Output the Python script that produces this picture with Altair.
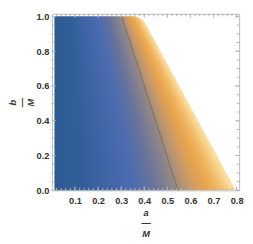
import altair as alt
import numpy as np
import pandas as pd

W, H = 192, 181

# outer boundary of the shaded region: b/M -> largest a/M
bound_b = [0.0, 0.93, 0.965, 0.985, 0.995, 1.0]
bound_a = [0.796, 0.417, 0.403, 0.388, 0.375, 0.362]
# the dark contour line inside the region
contour_b = [0.0, 1.0]
contour_a = [0.547, 0.303]
# left edge of the shaded region
left_a = 0.012

x_tick_vals = [0.1, 0.2, 0.3, 0.4, 0.5, 0.6, 0.7, 0.8]
y_tick_vals = [0.0, 0.2, 0.4, 0.6, 0.8, 1.0]
x_minor_vals = [round(0.02 * i, 2) for i in range(1, 41)]
y_minor_vals = [round(0.05 * i, 2) for i in range(0, 21)]

x_scale = alt.Scale(domain=[0, 0.811], nice=False, zero=False)
y_scale = alt.Scale(domain=[0, 1.015], nice=False, zero=False)

# horizontal strips used to render the colour field
n_strips = 100
edges = np.linspace(0.0, 1.0, n_strips + 1)
rows_l, rows_r = [], []
for k in range(n_strips):
    y0 = float(edges[k])
    y1 = float(min(1.0, edges[k + 1] + 0.012))
    for yy in (y0, y1):
        c = float(np.interp(yy, contour_b, contour_a))
        bnd = float(np.interp(yy, bound_b, bound_a))
        rows_l.append({"s": k, "b": yy, "lo": left_a, "hi": c})
        rows_r.append({"s": k, "b": yy, "lo": c, "hi": bnd})
df_l = pd.DataFrame(rows_l)
df_r = pd.DataFrame(rows_r)

blue_grad = {
    "gradient": "linear", "x1": 0, "y1": 0, "x2": 1, "y2": 0,
    "stops": [
        {"offset": 0.0, "color": "#2d5a8e"},
        {"offset": 0.25, "color": "#325f9a"},
        {"offset": 0.5, "color": "#4367ab"},
        {"offset": 0.65, "color": "#4d6caf"},
        {"offset": 0.8, "color": "#67739c"},
        {"offset": 0.92, "color": "#84808f"},
        {"offset": 1.0, "color": "#998a83"},
    ],
}
orange_grad = {
    "gradient": "linear", "x1": 0, "y1": 0, "x2": 1, "y2": 0,
    "stops": [
        {"offset": 0.0, "color": "#a08c7e"},
        {"offset": 0.15, "color": "#bb9570"},
        {"offset": 0.35, "color": "#d99e5c"},
        {"offset": 0.5, "color": "#e8a44e"},
        {"offset": 0.65, "color": "#efb059"},
        {"offset": 0.8, "color": "#f4c577"},
        {"offset": 0.92, "color": "#f9d898"},
        {"offset": 1.0, "color": "#fce4ac"},
    ],
}

FONT = "Liberation Sans"
LABEL_COLOR = "#333333"

x_axis = alt.Axis(
    values=x_tick_vals, format=".1f", tickSize=0, domain=False, grid=False,
    labelFont=FONT, labelFontWeight="bold", labelFontSize=9.5, labelColor=LABEL_COLOR,
    labelPadding=6, labelFlush=False, labelOverlap=False,
    title=["a", "—", "M"], titleFont=FONT, titleFontStyle="italic", titleFontWeight="bold",
    titleFontSize=9.5, titleColor=LABEL_COLOR, titleLineHeight=11,
    titleX=W / 2, titleY=25.5, titleAlign="center", titleBaseline="alphabetic", titleAngle=0,
)
y_axis = alt.Axis(
    values=y_tick_vals, format=".1f", tickSize=0, domain=False, grid=False,
    labelFont=FONT, labelFontWeight="bold", labelFontSize=9.5, labelColor=LABEL_COLOR,
    labelPadding=3, labelFlush=False, labelOverlap=False,
    title=["b", "—", "M"], titleFont=FONT, titleFontStyle="italic", titleFontWeight="bold",
    titleFontSize=9.5, titleColor=LABEL_COLOR, titleLineHeight=9.5,
    titleX=-37.5, titleY=H / 2, titleAlign="center", titleBaseline="alphabetic", titleAngle=270,
)


def X(field):
    return alt.X(field, scale=x_scale, axis=x_axis)


def Y(field):
    return alt.Y(field, scale=y_scale, axis=y_axis)


left = alt.Chart(df_l).mark_area(orient="horizontal", color=blue_grad, opacity=1).encode(
    y=Y("b:Q"), x=X("hi:Q"), x2="lo:Q", detail="s:O",
)
right = alt.Chart(df_r).mark_area(orient="horizontal", color=orange_grad, opacity=1).encode(
    y=Y("b:Q"), x=X("hi:Q"), x2="lo:Q", detail="s:O",
)
contour = alt.Chart(pd.DataFrame({"a": contour_a, "b": contour_b})).mark_line(
    color="#4a4a4a", opacity=0.6, strokeWidth=0.8
).encode(x=X("a:Q"), y=Y("b:Q"), order="b:Q")

TICK_COLOR = "#b4b4b4"
xmaj = pd.DataFrame({"v": x_tick_vals})
xmin = pd.DataFrame({"v": x_minor_vals})
ymaj = pd.DataFrame({"v": y_tick_vals})
ymin = pd.DataFrame({"v": y_minor_vals})


def xticks(df, length):
    base = alt.Chart(df).mark_rule(color=TICK_COLOR, strokeWidth=1)
    bottom = base.encode(x=X("v:Q"), y=alt.value(H), y2=alt.value(H - length))
    top = base.encode(x=X("v:Q"), y=alt.value(0), y2=alt.value(length))
    return [bottom, top]


def yticks(df, length):
    base = alt.Chart(df).mark_rule(color=TICK_COLOR, strokeWidth=1)
    lft = base.encode(y=Y("v:Q"), x=alt.value(0), x2=alt.value(length))
    rgt = base.encode(y=Y("v:Q"), x=alt.value(W), x2=alt.value(W - length))
    return [lft, rgt]


layers = [left, right, contour] + xticks(xmaj, 4) + xticks(xmin, 2.5) + yticks(ymaj, 4) + yticks(ymin, 2.5)

chart = alt.layer(*layers).properties(
    width=W, height=H, autosize="none",
    padding={"left": 45, "top": 3, "right": 6, "bottom": 50},
).configure_view(stroke="#bbbbbb", strokeWidth=1)

chart.save("out.html", embed_options={"renderer": "svg", "actions": False})
